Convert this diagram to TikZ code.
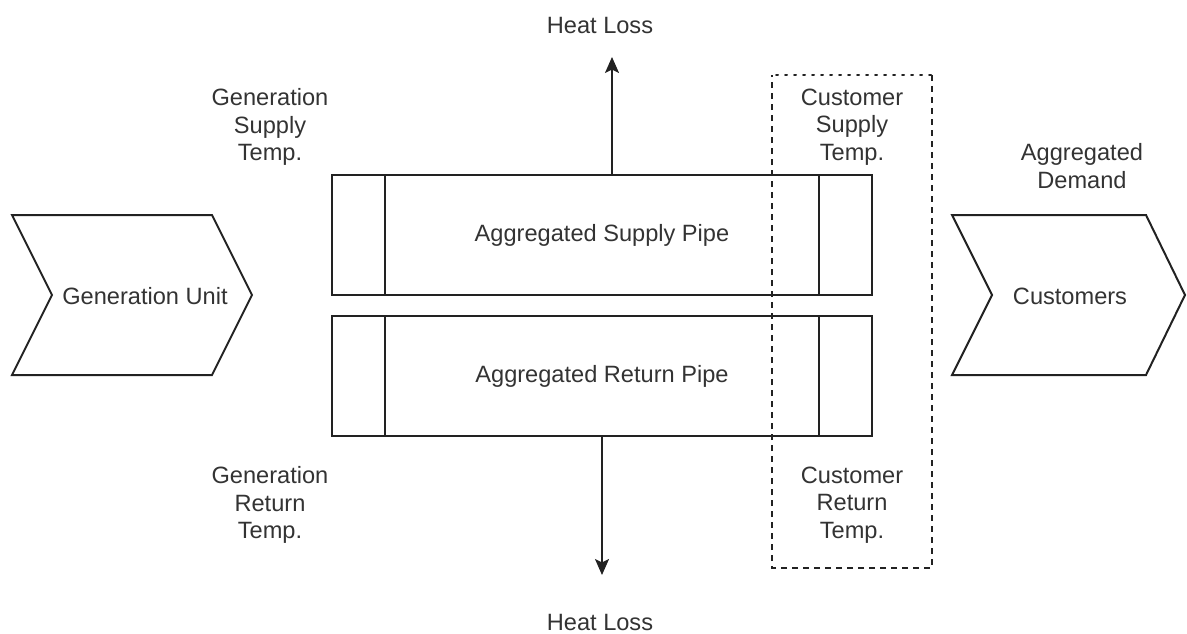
\documentclass[tikz,border=0pt]{standalone}
\usepackage{fontspec}
\setmainfont{Liberation Sans}
\usetikzlibrary{arrows.meta}
\definecolor{ink}{HTML}{222222}
\definecolor{txt}{HTML}{333333}
\tikzset{
  lbl/.style={text=txt, align=center, font=\fontsize{23.6}{27.5}\selectfont, inner sep=0pt},
  pipe/.style={draw=ink, line width=2pt, minimum width=540pt, minimum height=120pt, inner sep=0pt},
  outline/.style={draw=ink, line width=2pt, line join=miter},
  flow/.style={draw=ink, line width=2pt, -{Stealth[length=16pt,width=14pt,inset=3.5pt]}},
  zone/.style={draw=ink, line width=1.8pt, dash pattern=on 6pt off 5pt}
}
\begin{document}
\begin{tikzpicture}[x=1pt,y=-1pt]
\useasboundingbox (0,0) rectangle (1187,634);

% chevron step shapes
\draw[outline] (12,215) -- (212,215) -- (252,295) -- (212,375) -- (12,375) -- (52,295) -- cycle;
\node[lbl] (gen) at (145,296) {Generation Unit};
\draw[outline] (952,215) -- (1146,215) -- (1185,295) -- (1146,375) -- (952,375) -- (992,295) -- cycle;
\node[lbl] (cust) at (1070,296) {Customers};

% pipes with end segments
\node[pipe] (supply) at (602,235) {};
\node[lbl] at (supply.center) {Aggregated Supply Pipe};
\node[pipe] (return) at (602,376) {};
\node[lbl] at (return.center) {Aggregated Return Pipe};
\foreach \p in {supply,return}{
  \draw[ink, line width=2pt] ([xshift=54pt]\p.north west) -- ([xshift=54pt]\p.south west);
  \draw[ink, line width=2pt] ([xshift=-54pt]\p.north east) -- ([xshift=-54pt]\p.south east);
}

% heat losses
\node[lbl] (lossTop) at (600,25) {Heat Loss};
\node[lbl] (lossBot) at (600,622) {Heat Loss};
\coordinate (upStart) at ([xshift=10pt]supply.north);
\coordinate (upEnd) at (612,57);
\draw[flow] (upStart) -- (upEnd);
\coordinate (downEnd) at (602,575);
\draw[flow] (return.south) -- (downEnd);

% temperature labels
\node[lbl] (gst) at (270,127) {Generation\\Supply\\Temp.};
\node[lbl] (grt) at (270,505) {Generation\\Return\\Temp.};
\node[lbl] (cst) at (852,127) {Customer\\Supply\\Temp.};
\node[lbl] (crt) at (852,505) {Customer\\Return\\Temp.};
\node[lbl] (dem) at (1082,166) {Aggregated\\Demand};

% customer boundary
\draw[ink, line width=2pt, dash pattern=on 2pt off 7pt, line cap=round] (776,75) -- (932,75);
\draw[zone] (932,75) -- (932,568) -- (772,568) -- (772,75);
\end{tikzpicture}
\end{document}
